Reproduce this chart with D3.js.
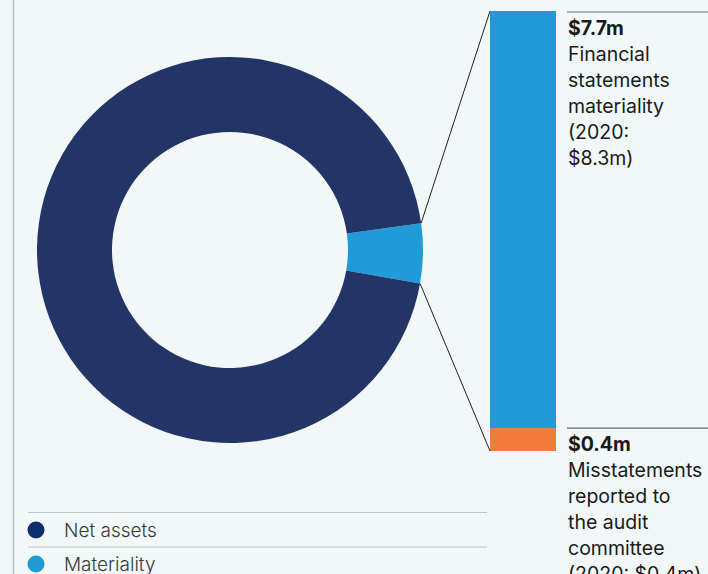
<!DOCTYPE html>
<html>
<head>
<meta charset="utf-8">
<script src="https://cdn.jsdelivr.net/npm/d3@7"></script>
<style>
  html, body { margin: 0; padding: 0; background: #f1f8f7; }
  svg { display: block; font-family: Inter, "Liberation Sans", sans-serif; }
</style>
</head>
<body>
<svg id="chart" width="708" height="574"></svg>
<script>
// donut: share of net assets used as materiality
const donutLabels = ['Materiality', 'Net assets'];
const donutValues = [7.7, 146.3];
const donutColors = ['#209bd7', '#233567'];

// stacked bar: materiality breakdown ($m)
const barParts = ['Misstatements', 'Materiality'];
const barValues = [0.4, 7.3];
const barColors = ['#f07b3a', '#209bd7'];

const topLabel = ['$7.7m', 'Financial', 'statements', 'materiality', '(2020:', '$8.3m)'];
const bottomLabel = ['$0.4m', 'Misstatements', 'reported to', 'the audit', 'committee', '(2020: $0.4m)'];

const legendItems = ['Net assets', 'Materiality'];
const legendColors = ['#0e2e6e', '#209bd7'];

const svg = d3.select('#chart');

// left rule
svg.append('line')
  .attr('x1', 13.5).attr('x2', 13.5).attr('y1', 0).attr('y2', 574)
  .attr('stroke', '#bcbcbc').attr('stroke-width', 1.5);

const cx = 230, cy = 250, outerR = 193, innerR = 118;
const startDeg = 82;

const pie = d3.pie()
  .sort(null)
  .startAngle(startDeg * Math.PI / 180)
  .endAngle(startDeg * Math.PI / 180 + 2 * Math.PI);
const arcs = pie(donutValues);
const arc = d3.arc().innerRadius(innerR).outerRadius(outerR);

const donut = svg.append('g').attr('transform', `translate(${cx},${cy})`);
donut.selectAll('path')
  .data(arcs)
  .join('path')
  .attr('d', arc)
  .attr('fill', (d, i) => donutColors[i]);

// bar
const barX = 490, barW = 66;
const y = d3.scaleLinear()
  .domain([0, d3.sum(barValues)])
  .range([451, 11]);

const stackStarts = d3.cumsum([0, ...barValues]);
svg.append('g')
  .selectAll('rect')
  .data(barValues)
  .join('rect')
  .attr('x', barX)
  .attr('width', barW)
  .attr('y', (d, i) => y(stackStarts[i] + d))
  .attr('height', (d, i) => y(stackStarts[i]) - y(stackStarts[i] + d))
  .attr('fill', (d, i) => barColors[i]);

// connectors from slice edge to bar corners
const slice = arcs[0];
const edgePoint = (angle) => [cx + outerR * Math.sin(angle), cy - outerR * Math.cos(angle)];
const pTop = edgePoint(slice.startAngle);
const pBot = edgePoint(slice.endAngle);
svg.append('line')
  .attr('x1', pTop[0]).attr('y1', pTop[1])
  .attr('x2', barX).attr('y2', y.range()[1])
  .attr('stroke', '#222').attr('stroke-width', 1);
svg.append('line')
  .attr('x1', pBot[0]).attr('y1', pBot[1])
  .attr('x2', barX).attr('y2', y.range()[0])
  .attr('stroke', '#222').attr('stroke-width', 1);

// annotation blocks
function annotation(lines, ruleY) {
  svg.append('line')
    .attr('x1', 567).attr('x2', 708).attr('y1', ruleY).attr('y2', ruleY)
    .attr('stroke', '#6b6b6b').attr('stroke-width', 1.2);
  svg.append('text')
    .attr('x', 568)
    .attr('y', ruleY + 23)
    .attr('font-size', 19.5)
    .attr('fill', '#1a1a1a')
    .selectAll('tspan')
    .data(lines)
    .join('tspan')
    .attr('x', 568)
    .attr('dy', (d, i) => (i === 0 ? 0 : 26))
    .attr('font-weight', (d, i) => (i === 0 ? 700 : 400))
    .text((d) => d);
}
annotation(topLabel, y(d3.sum(barValues)) + 1);
annotation(bottomLabel, y(barValues[0]));

// legend
const legend = svg.append('g');
[512.5, 547].forEach((ly) => {
  legend.append('line')
    .attr('x1', 28).attr('x2', 487).attr('y1', ly).attr('y2', ly)
    .attr('stroke', '#c6c8c8').attr('stroke-width', 1.2);
});
const items = legend.selectAll('g.item')
  .data(legendItems)
  .join('g')
  .attr('class', 'item')
  .attr('transform', (d, i) => `translate(0,${530 + i * 34})`);
items.append('circle')
  .attr('cx', 36).attr('r', 8.5)
  .attr('fill', (d, i) => legendColors[i]);
items.append('text')
  .attr('x', 64)
  .attr('dy', '0.35em')
  .attr('font-size', 19)
  .attr('font-weight', 300)
  .attr('fill', '#3a3a3a')
  .text((d) => d);
</script>
</body>
</html>
